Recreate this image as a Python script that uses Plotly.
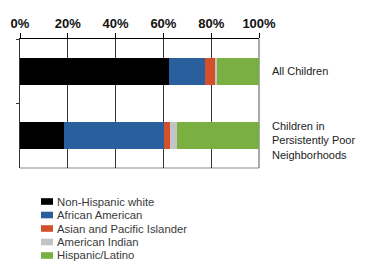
import plotly.graph_objects as go

categories = ["All Children", "Children in Persistently Poor Neighborhoods"]
category_labels = ["All Children", "Children in<br>Persistently Poor<br>Neighborhoods"]
series_names = ["Non-Hispanic white", "African American", "Asian and Pacific Islander",
                "American Indian", "Hispanic/Latino"]
non_hispanic_white = [62.2, 18.6]
african_american = [15.0, 41.5]
asian_pacific = [4.3, 2.7]
american_indian = [0.9, 2.8]
hispanic_latino = [17.6, 34.4]
series_values = [non_hispanic_white, african_american, asian_pacific, american_indian, hispanic_latino]
colors = ["#000000", "#2a5f9e", "#d4502a", "#c4c4c4", "#7aaf41"]
tick_vals = [0, 20, 40, 60, 80, 100]
tick_text = ["0%", "20%", "40%", "60%", "80%", "100%"]

W, H = 373, 265
L, R, T, B = 20, 114, 39, 97
pw, ph = W - L - R, H - T - B

fig = go.Figure()
for name, vals, col in zip(series_names, series_values, colors):
    fig.add_trace(go.Bar(y=categories, x=vals, name=name, orientation="h",
                         marker=dict(color=col, line=dict(width=0)),
                         width=0.42, showlegend=False, hoverinfo="skip"))

annotations = []
shapes = []
for cat, lab in zip(categories, category_labels):
    annotations.append(dict(x=1, xref="paper", y=cat, yref="y", text=lab,
                            xanchor="left", yanchor="middle", xshift=11,
                            yshift=-5 if "<br>" in lab else 0,
                            showarrow=False, align="left",
                            font=dict(size=11, color="#222", family="Liberation Sans, Arial")))

# manual legend
lx0, lx1 = 41, 53
ty0 = 201.5
step = 13.5
for i, (name, col) in enumerate(zip(series_names, colors)):
    cy = ty0 + i * step
    shapes.append(dict(type="rect", xref="paper", yref="paper",
                       x0=(lx0 - L) / pw, x1=(lx1 - L) / pw,
                       y0=(H - B - (cy - 3.3)) / ph, y1=(H - B - (cy + 3.3)) / ph,
                       fillcolor=col, line=dict(width=0)))
    annotations.append(dict(x=(55 - L) / pw, xref="paper", y=(H - B - cy) / ph, yref="paper",
                            text=name, xanchor="left", yanchor="middle", showarrow=False,
                            font=dict(size=11.3, color="#3a3a3a", family="Liberation Sans, Arial")))

# border
shapes.append(dict(type="line", xref="paper", yref="paper", x0=0, x1=1, y0=0, y1=0,
                   line=dict(color="#888", width=1), layer="below"))
shapes.append(dict(type="line", xref="paper", yref="paper", x0=1, x1=1, y0=0, y1=1,
                   line=dict(color="#555", width=1), layer="below"))

fig.update_layout(
    width=W, height=H,
    margin=dict(l=L, r=R, t=T, b=B, autoexpand=False),
    barmode="stack",
    plot_bgcolor="white", paper_bgcolor="white",
    font=dict(family="Liberation Sans, Arial", color="#222"),
    xaxis=dict(side="top", range=[0, 100], tickvals=tick_vals, ticktext=tick_text,
               automargin=False, fixedrange=True,
               showgrid=True, gridcolor="#333", gridwidth=1, zeroline=False,
               showline=True, linecolor="black", linewidth=1,
               ticks="outside", ticklen=5, tickcolor="black",
               tickfont=dict(size=13, color="#111", family="Liberation Sans, Arial", weight="bold")),
    yaxis=dict(type="category", categoryarray=categories, autorange="reversed",
               automargin=False, fixedrange=True,
               showticklabels=False, showgrid=False, zeroline=False,
               showline=True, linecolor="#333", linewidth=1,
               ticks="outside", tickson="boundaries", ticklen=3, tickcolor="#333"),
    annotations=annotations, shapes=shapes,
    showlegend=False,
)
fig.write_html("out.html", config={"displayModeBar": False, "staticPlot": True},
               post_script="document.body.style.margin='0';document.body.style.overflow='hidden';")
